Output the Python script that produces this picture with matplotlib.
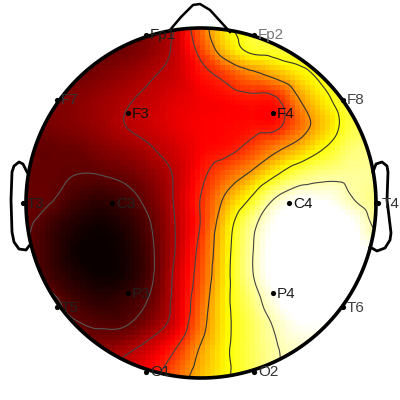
import numpy as np
import matplotlib
matplotlib.use('Agg')
import matplotlib.pyplot as plt
import matplotlib.tri as mtri
from matplotlib.patches import Circle

channels = ['Fp1','Fp2','F7','F3','F4','F8','T3','C3','C4','T4','T5','P3','P4','T6','O1','O2']
chan_x = [146,254,57,128,273,343,23,112,289,378,57,128,273,343,146,254]
chan_y = [35,35,100,113,113,100,203,203,203,203,307,293,293,307,372,372]
label_colors = ['#222222','#777777','#333333','#111111','#111111','#444444','#222222','#222222','#111111','#333333',
                '#222222','#222222','#222222','#444444','#222222','#333333']

grid_x = list(range(0, 401, 25))
grid_y = list(range(25, 401, 25))
row025 = [.12,.12,.12,.12,.12,.13,.17,.25,.50,.70,.77,.78,.78,.78,.78,.78,.78]
row050 = [.12,.12,.12,.12,.13,.15,.19,.27,.44,.64,.75,.77,.78,.78,.78,.78,.78]
row075 = [.13,.13,.13,.14,.17,.20,.24,.28,.37,.44,.53,.60,.69,.76,.80,.80,.80]
row100 = [.14,.14,.16,.18,.21,.24,.27,.31,.34,.36,.38,.39,.57,.70,.80,.82,.82]
row125 = [.14,.14,.16,.18,.21,.25,.28,.32,.35,.36,.37,.38,.51,.65,.78,.82,.82]
row150 = [.13,.13,.13,.14,.17,.20,.24,.29,.35,.38,.45,.55,.64,.74,.83,.85,.85]
row175 = [.13,.13,.13,.12,.12,.14,.19,.26,.38,.49,.59,.72,.82,.86,.87,.87,.87]
row200 = [.13,.13,.125,.08,.055,.085,.15,.26,.41,.59,.74,.90,.97,.96,.90,.85,.85]
row225 = [.13,.13,.08,.03,.01,.04,.115,.25,.41,.66,.85,.97,1.0,1.0,.98,.88,.85]
row250 = [.13,.125,.07,.01,.00,.02,.10,.25,.44,.68,.87,.99,1.0,1.0,1.0,.95,.92]
row275 = [.14,.13,.08,.03,.005,.02,.10,.27,.46,.69,.87,.99,1.0,1.0,.99,.95,.93]
row300 = [.15,.15,.14,.08,.05,.07,.13,.28,.49,.70,.83,.95,1.0,1.0,.97,.94,.93]
row325 = [.16,.16,.16,.13,.11,.115,.19,.30,.52,.70,.80,.90,.96,.96,.93,.92,.92]
row350 = [.16,.16,.16,.17,.19,.23,.30,.41,.58,.71,.80,.88,.92,.92,.92,.92,.92]
row375 = [.18,.18,.20,.22,.26,.30,.37,.49,.62,.71,.80,.88,.92,.92,.92,.92,.92]
row400 = [.20,.20,.22,.25,.30,.34,.42,.54,.65,.73,.80,.88,.92,.92,.92,.92,.92]
rows = [row025,row050,row075,row100,row125,row150,row175,row200,row225,row250,row275,row300,row325,row350,row375,row400]

nose_x = [170,181,193,200,210,220,230]
nose_y = [30,17,5,4,10,21,32]
lear_x = [27,23,19,14,12,11,12,14,19,26,29]
lear_y = [172,164,162,166,172,200,232,242,249,250,246]
rear_x = [373,376,382,387,388,387,391,390,385,377,370]
rear_y = [172,164,162,166,172,200,233,240,248,251,247]

levels = [.12,.25,.41,.57,.73,.89]
cx, cy, radius = 201, 203, 175

Z = np.array(rows, dtype=float)
X, Y = np.meshgrid(grid_x, grid_y)
tri = mtri.Triangulation(X.ravel(), Y.ravel())
interp = mtri.CubicTriInterpolator(tri, Z.ravel(), kind='geom')

fig = plt.figure(figsize=(4, 4), dpi=100)
ax = fig.add_axes([0, 0, 1, 1])
ax.set_xlim(0, 400)
ax.set_ylim(400, 0)
ax.axis('off')

clip = Circle((cx, cy), radius, transform=ax.transData, fc='none', ec='none')
ax.add_patch(clip)

ex = np.arange(0, 401, 5)
ey = np.arange(25, 401, 5)
mx, my = np.meshgrid((ex[:-1] + ex[1:]) / 2, (ey[:-1] + ey[1:]) / 2)
C = np.ma.filled(interp(mx, my), 0.5)
mesh = ax.pcolormesh(ex, ey, np.clip(C, 0, 1), cmap='hot', vmin=0, vmax=.97, shading='flat', rasterized=True)
mesh.set_clip_path(clip)

fx, fy = np.meshgrid(np.arange(0, 400.5, 2), np.arange(25, 400.5, 2))
F = np.ma.filled(interp(fx, fy), 0.5)
cs = ax.contour(fx, fy, F, levels=levels, colors=['#555555','#444444','#444444','#333333','#333333','#444444'], linewidths=0.8)
cs.set_clip_path(clip)

th = np.linspace(0, 2 * np.pi, 400)
ax.plot(cx + radius * np.cos(th), cy + radius * np.sin(th), color='black', lw=2.6, zorder=5)
ax.plot(nose_x, nose_y, color='black', lw=1.8, zorder=5)
ax.plot(lear_x, lear_y, color='black', lw=2.0, zorder=5)
ax.plot(rear_x, rear_y, color='black', lw=2.0, zorder=5)

ax.scatter(chan_x, chan_y, s=14, color='black', zorder=6, linewidths=0)
for name, x, y, c in zip(channels, chan_x, chan_y, label_colors):
    ax.text(x + 4, y + 0.5, name, fontsize=11, family='Liberation Sans', color=c, va='center', ha='left', zorder=7)

fig.savefig('out.png', dpi=100)
